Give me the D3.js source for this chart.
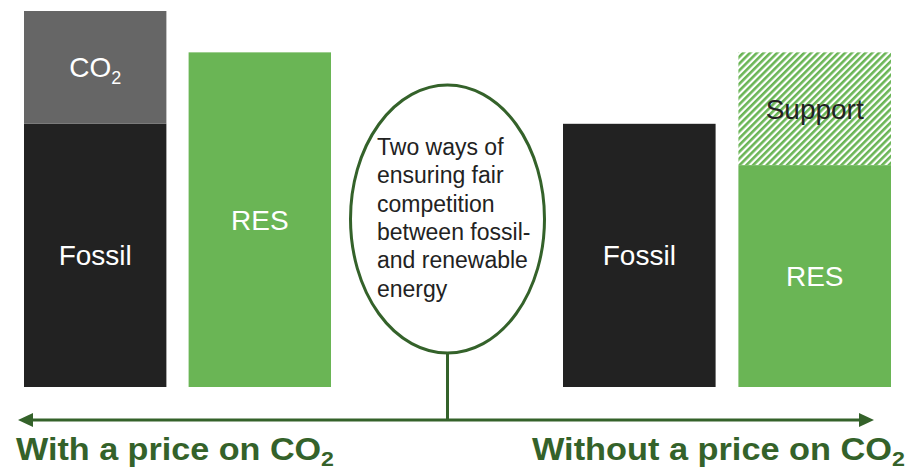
<!DOCTYPE html>
<html>
<head>
<meta charset="utf-8">
<script src="https://cdn.jsdelivr.net/npm/d3@7"></script>
<style>
  body { margin: 0; background: #fff; }
  svg { display: block; font-family: "Liberation Sans", Arimo, Arial, sans-serif; }
</style>
</head>
<body>
<div id="chart"></div>
<script>
// values (index, tallest bar = 100)
var categories = ["Fossil", "RES", "Fossil", "RES"]
var groupOf = ["with", "with", "without", "without"]
var baseValues = [70, 89, 70, 59]
var topValues = [30, 0, 0, 30]
var topLabels = ["CO", "", "", "Support"]
var groupLabels = ["With a price on CO", "Without a price on CO"]
var calloutLines = ["Two ways of", "ensuring fair", "competition",
                    "between fossil-", "and renewable", "energy"]

var width = 912
var height = 467
var darkGreen = "#34622a"
var green = "#6ab555"

var svg = d3.select('#chart')
    .append('svg')
    .attr('width', width)
    .attr('height', height)

// hatch for the support part
var pattern = svg.append('defs').append('pattern')
    .attr('id', 'hatch')
    .attr('patternUnits', 'userSpaceOnUse')
    .attr('width', 4.8)
    .attr('height', 4.8)
    .attr('patternTransform', 'rotate(45)')
pattern.append('rect')
    .attr('width', 2.6)
    .attr('height', 4.8)
    .attr('fill', green)

var yScale = d3.scaleLinear()
    .domain([0, 100])
    .range([387, 11])

var xWith = d3.scaleBand()
    .domain([0, 1])
    .range([24, 331])
    .paddingInner(0.135)
var xWithout = d3.scaleBand()
    .domain([2, 3])
    .range([563, 891])
    .paddingInner(0.13)

function xOf(i) { return groupOf[i] == "with" ? xWith(i) : xWithout(i) }
function bw(i) { return groupOf[i] == "with" ? xWith.bandwidth() : xWithout.bandwidth() }

var idx = d3.range(categories.length)

// base segments
svg.selectAll('.base')
    .data(idx)
    .enter()
    .append('rect')
    .attr('class', 'base')
    .attr('x', i => xOf(i))
    .attr('width', i => bw(i))
    .attr('y', i => yScale(baseValues[i]))
    .attr('height', i => yScale(0) - yScale(baseValues[i]))
    .attr('fill', i => categories[i] == "Fossil" ? "#222222" : green)

// top segments (CO2 / support)
svg.selectAll('.top')
    .data(idx.filter(i => topValues[i] > 0))
    .enter()
    .append('rect')
    .attr('class', 'top')
    .attr('x', i => xOf(i))
    .attr('width', i => bw(i))
    .attr('y', i => yScale(baseValues[i] + topValues[i]))
    .attr('height', i => yScale(baseValues[i]) - yScale(baseValues[i] + topValues[i]))
    .attr('fill', i => categories[i] == "Fossil" ? "#666666" : "url(#hatch)")

// base labels
svg.selectAll('.baseLabel')
    .data(idx)
    .enter()
    .append('text')
    .attr('class', 'baseLabel')
    .attr('x', i => xOf(i) + bw(i) / 2)
    .attr('y', i => yScale(baseValues[i] / 2) + 10)
    .attr('text-anchor', 'middle')
    .attr('font-size', 28)
    .attr('fill', '#fff')
    .text(i => categories[i])

// top labels
var topText = svg.selectAll('.topLabel')
    .data(idx.filter(i => topValues[i] > 0))
    .enter()
    .append('text')
    .attr('class', 'topLabel')
    .attr('x', i => xOf(i) + bw(i) / 2)
    .attr('y', i => yScale(baseValues[i] + topValues[i] / 2) + 10)
    .attr('text-anchor', 'middle')
    .attr('font-size', 28)
    .attr('fill', i => categories[i] == "Fossil" ? "#fff" : "#222")
topText.append('tspan').text(i => topLabels[i])
topText.filter(i => categories[i] == "Fossil")
    .append('tspan')
    .attr('font-size', 18)
    .attr('dy', 7)
    .text('2')

// the callout ellipse
svg.append('line')
    .attr('x1', 447.5).attr('x2', 447.5)
    .attr('y1', 353).attr('y2', 420)
    .attr('stroke', darkGreen)
    .attr('stroke-width', 3)

svg.append('ellipse')
    .attr('cx', 447.5)
    .attr('cy', 219)
    .attr('rx', 97)
    .attr('ry', 134)
    .attr('fill', '#fff')
    .attr('stroke', darkGreen)
    .attr('stroke-width', 3)

svg.selectAll('.callout')
    .data(calloutLines)
    .enter()
    .append('text')
    .attr('class', 'callout')
    .attr('x', 377)
    .attr('y', (d, i) => 155 + i * 28.3)
    .attr('font-size', 23)
    .attr('fill', '#222')
    .text(d => d)

// double arrow
svg.append('line')
    .attr('x1', 30).attr('x2', 862)
    .attr('y1', 420).attr('y2', 420)
    .attr('stroke', darkGreen)
    .attr('stroke-width', 3)
svg.append('path')
    .attr('d', 'M18,420 L33,413 L33,427 Z')
    .attr('fill', darkGreen)
svg.append('path')
    .attr('d', 'M874,420 L859,413 L859,427 Z')
    .attr('fill', darkGreen)

// group labels
var labelX = [16, 532]
var labelLen = [318, 373]
var gl = svg.selectAll('.groupLabel')
    .data(groupLabels)
    .enter()
    .append('text')
    .attr('class', 'groupLabel')
    .attr('x', (d, i) => labelX[i])
    .attr('y', 460)
    .attr('font-size', 31)
    .attr('font-weight', 'bold')
    .attr('fill', darkGreen)
    .attr('textLength', (d, i) => labelLen[i])
    .attr('lengthAdjust', 'spacingAndGlyphs')
gl.append('tspan').text(d => d)
gl.append('tspan')
    .attr('font-size', 21)
    .attr('dy', 6)
    .text('2')
</script>
</body>
</html>
